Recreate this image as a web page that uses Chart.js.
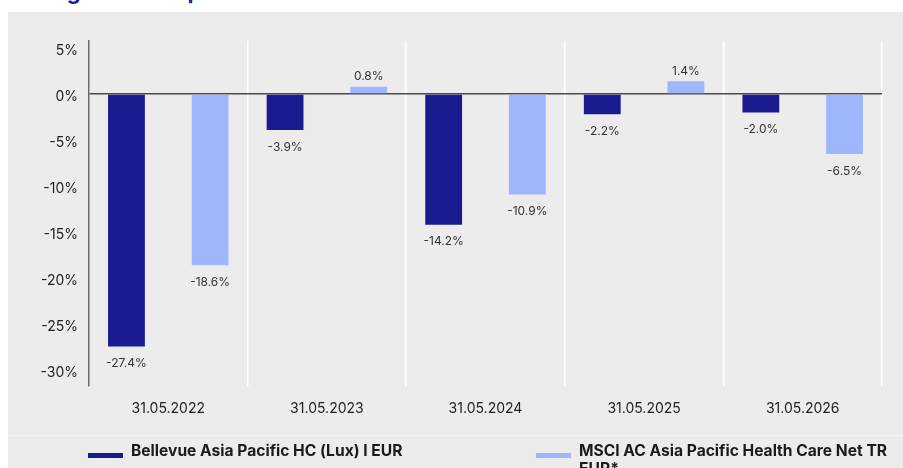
<!DOCTYPE html>
<html>
<head>
<meta charset="utf-8">
<script src="https://cdn.jsdelivr.net/npm/chart.js@4.4.1/dist/chart.umd.min.js"></script>
<style>
  html, body { margin: 0; padding: 0; background: #ffffff; width: 903px; height: 468px; overflow: hidden; font-family: Inter, "Noto Sans", sans-serif; }
  #title { position: absolute; left: 8px; top: -22px; font-size: 22px; font-weight: 700; color: #1c1c9c; white-space: nowrap; letter-spacing: -0.1px; }
  #panel { position: absolute; left: 8px; top: 12px; width: 895px; height: 456px; background: #ececec; }
  #sep { position: absolute; left: 8px; top: 435px; width: 895px; height: 1px; background: #f2f2f2; }
  #chartWrap { position: absolute; left: 0; top: 0; width: 903px; height: 468px; }
  .leg { position: absolute; font-size: 15.6px; font-weight: 700; color: #1b1b1b; line-height: 18px; }
  .sw { position: absolute; height: 5px; width: 35px; }
</style>
</head>
<body>
<div id="title">Rolling 12 month performance</div>
<div id="panel"></div>
<div id="sep"></div>
<div id="chartWrap"><canvas id="c" width="903" height="468"></canvas></div>
<div class="sw" style="left:88px; top:453px; background:#1a1a91;"></div>
<div class="leg" id="leg1" style="left:131px; top:442px;"></div>
<div class="sw" style="left:536px; top:453px; background:#9eb6fb;"></div>
<div class="leg" id="leg2" style="left:579px; top:442px; width:318px;"></div>
<script>
const categories = ["31.05.2022", "31.05.2023", "31.05.2024", "31.05.2025", "31.05.2026"];
const fundName = "Bellevue Asia Pacific HC (Lux) I EUR";
const benchName = "MSCI AC Asia Pacific Health Care Net TR EUR*";
const fundValues = [-27.4, -3.9, -14.2, -2.2, -2.0];
const benchValues = [-18.6, 0.8, -10.9, 1.4, -6.5];
const yTicks = [5, 0, -5, -10, -15, -20, -25, -30];

document.getElementById('leg1').textContent = fundName;
document.getElementById('leg2').textContent = benchName;

const valueLabels = {
  id: 'valueLabels',
  afterDatasetsDraw(chart) {
    const ctx = chart.ctx;
    ctx.save();
    ctx.font = '12px Inter, "Noto Sans", sans-serif';
    ctx.fillStyle = '#333333';
    ctx.textAlign = 'center';
    ctx.textBaseline = 'middle';
    chart.data.datasets.forEach((ds, di) => {
      const meta = chart.getDatasetMeta(di);
      meta.data.forEach((bar, i) => {
        const v = ds.data[i];
        const txt = v.toFixed(1) + '%';
        ctx.fillText(txt, bar.x, v < 0 ? bar.y + 17 : bar.y - 10);
      });
    });
    ctx.restore();
  }
};

new Chart(document.getElementById('c'), {
  type: 'bar',
  data: {
    labels: categories,
    datasets: [
      { label: fundName, data: fundValues, backgroundColor: '#1a1a91', categoryPercentage: 1.055, barPercentage: 0.44 },
      { label: benchName, data: benchValues, backgroundColor: '#9eb6fb', categoryPercentage: 1.055, barPercentage: 0.44 }
    ]
  },
  options: {
    responsive: false,
    animation: false,
    devicePixelRatio: 1,
    layout: { padding: { left: 0, right: 21, top: 41, bottom: 0 } },
    plugins: { legend: { display: false }, tooltip: { enabled: false } },
    scales: {
      x: {
        offset: true,
        grid: { display: true, offset: true, color: (c) => c.index === 0 ? 'rgba(0,0,0,0)' : '#ffffff', lineWidth: 1.5, drawTicks: false },
        border: { display: false },
        ticks: { color: '#222222', font: { size: 14, family: 'Inter' }, padding: 14, maxRotation: 0 },
        afterFit(scale) { scale.height = 82; }
      },
      y: {
        min: -31.7,
        max: 5.76,
        afterBuildTicks(scale) { scale.ticks = yTicks.map(v => ({ value: v })); },
        grid: { color: (c) => c.tick && c.tick.value === 0 ? '#4a4a4a' : 'rgba(0,0,0,0)', lineWidth: 1.5, drawTicks: false },
        border: { display: true, color: '#6a6a6a', width: 1.5 },
        ticks: { color: '#222222', font: { size: 14, family: 'Inter' }, padding: 11, labelOffset: 2.5, callback: (v) => v + '%' },
        afterFit(scale) { scale.width = 89; }
      }
    }
  },
  plugins: [valueLabels]
});
</script>
</body>
</html>
